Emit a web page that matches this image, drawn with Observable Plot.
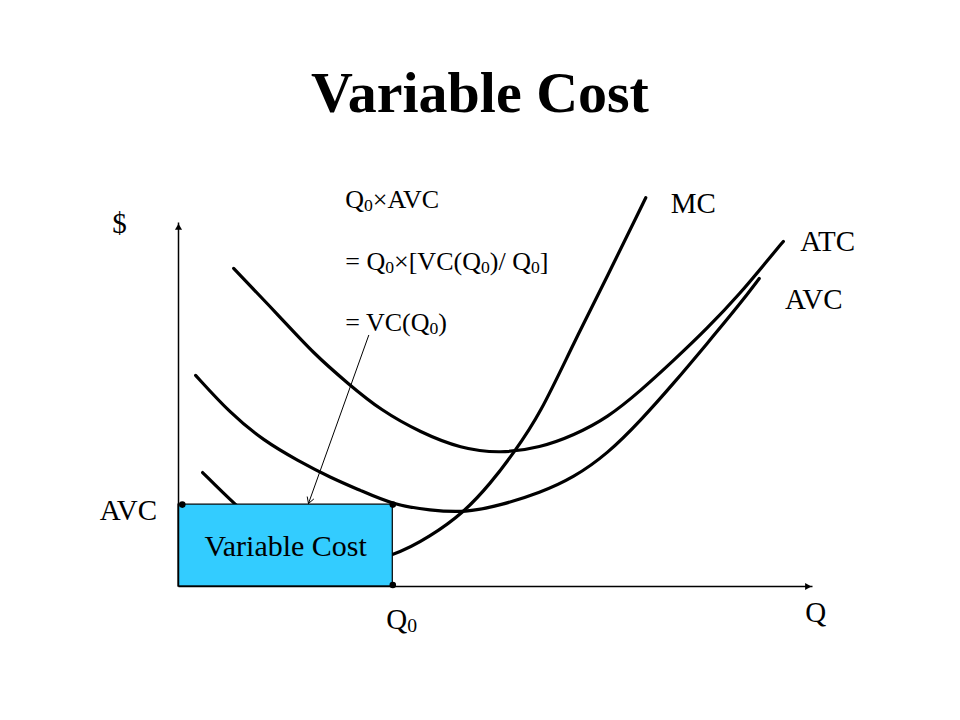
<!DOCTYPE html>
<html><head><meta charset="utf-8">
<script src="https://cdn.jsdelivr.net/npm/d3@7"></script>
<script src="https://cdn.jsdelivr.net/npm/@observablehq/plot@0.6"></script>
<style>
body{margin:0;background:#fff;width:960px;height:720px;overflow:hidden}
#title{position:relative;height:140px;}
#title h1{position:absolute;left:0;width:960px;top:64px;margin:0;text-align:center;font:bold 58px/58px 'Liberation Serif','Times New Roman',serif;color:#000}
#chart svg{display:block}
</style></head><body>
<div id="title"><h1>Variable Cost</h1></div>
<div id="chart"></div>
<script>
// ---- data (arbitrary units) ----
const atcQ    = [0.87, 1.61, 2.13, 2.67, 3.19, 3.82, 4.45, 5.08, 5.71, 6.23, 6.77, 7.29, 7.81, 8.34, 8.86, 9.29, 9.54];
const atcCost = [8.74, 7.39, 6.40, 5.58, 4.84, 4.23, 3.79, 3.65, 3.82, 4.15, 4.64, 5.38, 6.21, 7.09, 8.05, 8.96, 9.48];

const avcQ    = [0.27, 0.82, 1.34, 1.88, 2.40, 2.87, 3.38, 3.97, 4.53, 5.08, 5.71, 6.23, 6.77, 7.29, 7.81, 8.34, 8.86, 9.16];
const avcCost = [5.80, 4.75, 4.01, 3.46, 2.99, 2.64, 2.25, 2.09, 2.03, 2.23, 2.58, 2.99, 3.65, 4.56, 5.58, 6.68, 7.77, 8.46];

const mcQ     = [0.38, 0.87, 1.45, 2.08, 2.71, 3.39, 3.97, 4.50, 4.92, 5.28, 5.71, 6.23, 6.77, 7.37];
const mcCost  = [3.13, 2.28, 1.40, 0.85, 0.63, 0.82, 1.37, 2.03, 2.83, 3.65, 4.75, 6.68, 8.54, 10.68];

const q0 = 3.38;          // chosen output
const avcAtQ0 = 2.25;     // AVC at Q0

const curveNames = ["MC", "ATC", "AVC"];
const axisNames = ["$", "Q"];
const boxLabel = "Variable Cost";
const formulaLines = ["Q₀×AVC", "= Q₀×[VC(Q₀)/ Q₀]", "= VC(Q₀)"];
const tickLabels = ["AVC", "Q₀"];

// ---- tables ----
const toRows = (qs, cs) => qs.map((q, i) => ({q, c: cs[i]}));
const atc = toRows(atcQ, atcCost);
const avc = toRows(avcQ, avcCost);
const mc = toRows(mcQ, mcCost);

const serif = "'Liberation Serif','Times New Roman',serif";
const curveStyle = {x: "q", y: "c", curve: "basis", stroke: "black", strokeWidth: 3.2};

const chart = Plot.plot({
  width: 960,
  height: 580,
  marginLeft: 178,
  marginRight: 148,
  marginTop: 82,
  marginBottom: 134,
  x: {domain: [0, 10], axis: null},
  y: {domain: [0, 10], axis: null},
  style: {fontFamily: serif, background: "white", color: "black", overflow: "visible"},
  marks: [
    Plot.line(mc, curveStyle),
    Plot.line(atc, curveStyle),
    Plot.line(avc, curveStyle),
    Plot.rect([{q: q0, c: avcAtQ0}], {x1: () => 0, x2: "q", y1: () => 0, y2: "c", fill: "#33ccff", stroke: "black", strokeWidth: 1.2}),
    // axes
    Plot.link([{x1: 0, y1: 0, x2: 0, y2: 10}, {x1: 0, y1: 0, x2: 10, y2: 0}],
      {x1: "x1", y1: "y1", x2: "x2", y2: "y2", stroke: "black", strokeWidth: 1.5}),
    Plot.dot([{x: 0, y: 10}], {x: "x", y: "y", symbol: "triangle2", r: 3.4, fill: "black", stroke: "none", dy: 5.3}),
    Plot.dot([{x: 10, y: 0}], {x: "x", y: "y", symbol: "triangle2", r: 3.4, fill: "black", stroke: "none", dx: -5.3, rotate: 90}),
    // corner dots
    Plot.dot([{x: 0.06, y: avcAtQ0}, {x: q0, y: avcAtQ0}, {x: q0, y: 0.04}], {x: "x", y: "y", r: 3.3, fill: "black", stroke: "none"}),
    // annotation arrow
    Plot.arrow([{x1: 3.0, y1: 6.9, x2: 2.05, y2: 2.28}], {x1: "x1", y1: "y1", x2: "x2", y2: "y2", stroke: "black", strokeWidth: 1, headLength: 10, insetEnd: 0}),
    // labels
    Plot.text([
      {t: curveNames[0], x: 8.12, y: 10.52},
      {t: curveNames[1], x: 10.24, y: 9.48},
      {t: curveNames[2], x: 10.02, y: 7.88},
      {t: axisNames[0], x: -0.93, y: 9.97},
      {t: axisNames[1], x: 10.05, y: -0.71},
      {t: tickLabels[0], x: -0.79, y: 2.09},
      {t: tickLabels[1], x: 3.52, y: -0.91}
    ], {x: "x", y: "y", text: "t", fontSize: 29, fill: "black"}),
    Plot.text([{t: boxLabel, x: 1.69, y: 1.10}], {x: "x", y: "y", text: "t", fontSize: 30, fill: "#000"}),
    Plot.text(formulaLines.map((t, i) => ({t, y: [10.63, 8.93, 7.25][i]})),
      {x: () => 2.63, y: "y", text: "t", fontSize: 26, textAnchor: "start", fill: "black"})
  ]
});
document.getElementById("chart").appendChild(chart);

// render "₀" as a real subscript tspan
chart.querySelectorAll("text").forEach(el => {
  if (el.children.length || !el.textContent.includes("₀")) return;
  const fs = parseFloat(getComputedStyle(el).fontSize) || 26;
  const parts = el.textContent.split("₀");
  el.textContent = "";
  const NS = "http://www.w3.org/2000/svg";
  const shift = fs * 0.12;
  parts.forEach((p, i) => {
    if (p) {
      const t = document.createElementNS(NS, "tspan");
      t.textContent = p;
      if (i > 0) t.setAttribute("dy", -shift);
      el.appendChild(t);
    }
    if (i < parts.length - 1) {
      const s = document.createElementNS(NS, "tspan");
      s.textContent = "0";
      s.setAttribute("font-size", fs * 0.68);
      s.setAttribute("dy", shift);
      el.appendChild(s);
    }
  });
});
</script>
</body></html>
